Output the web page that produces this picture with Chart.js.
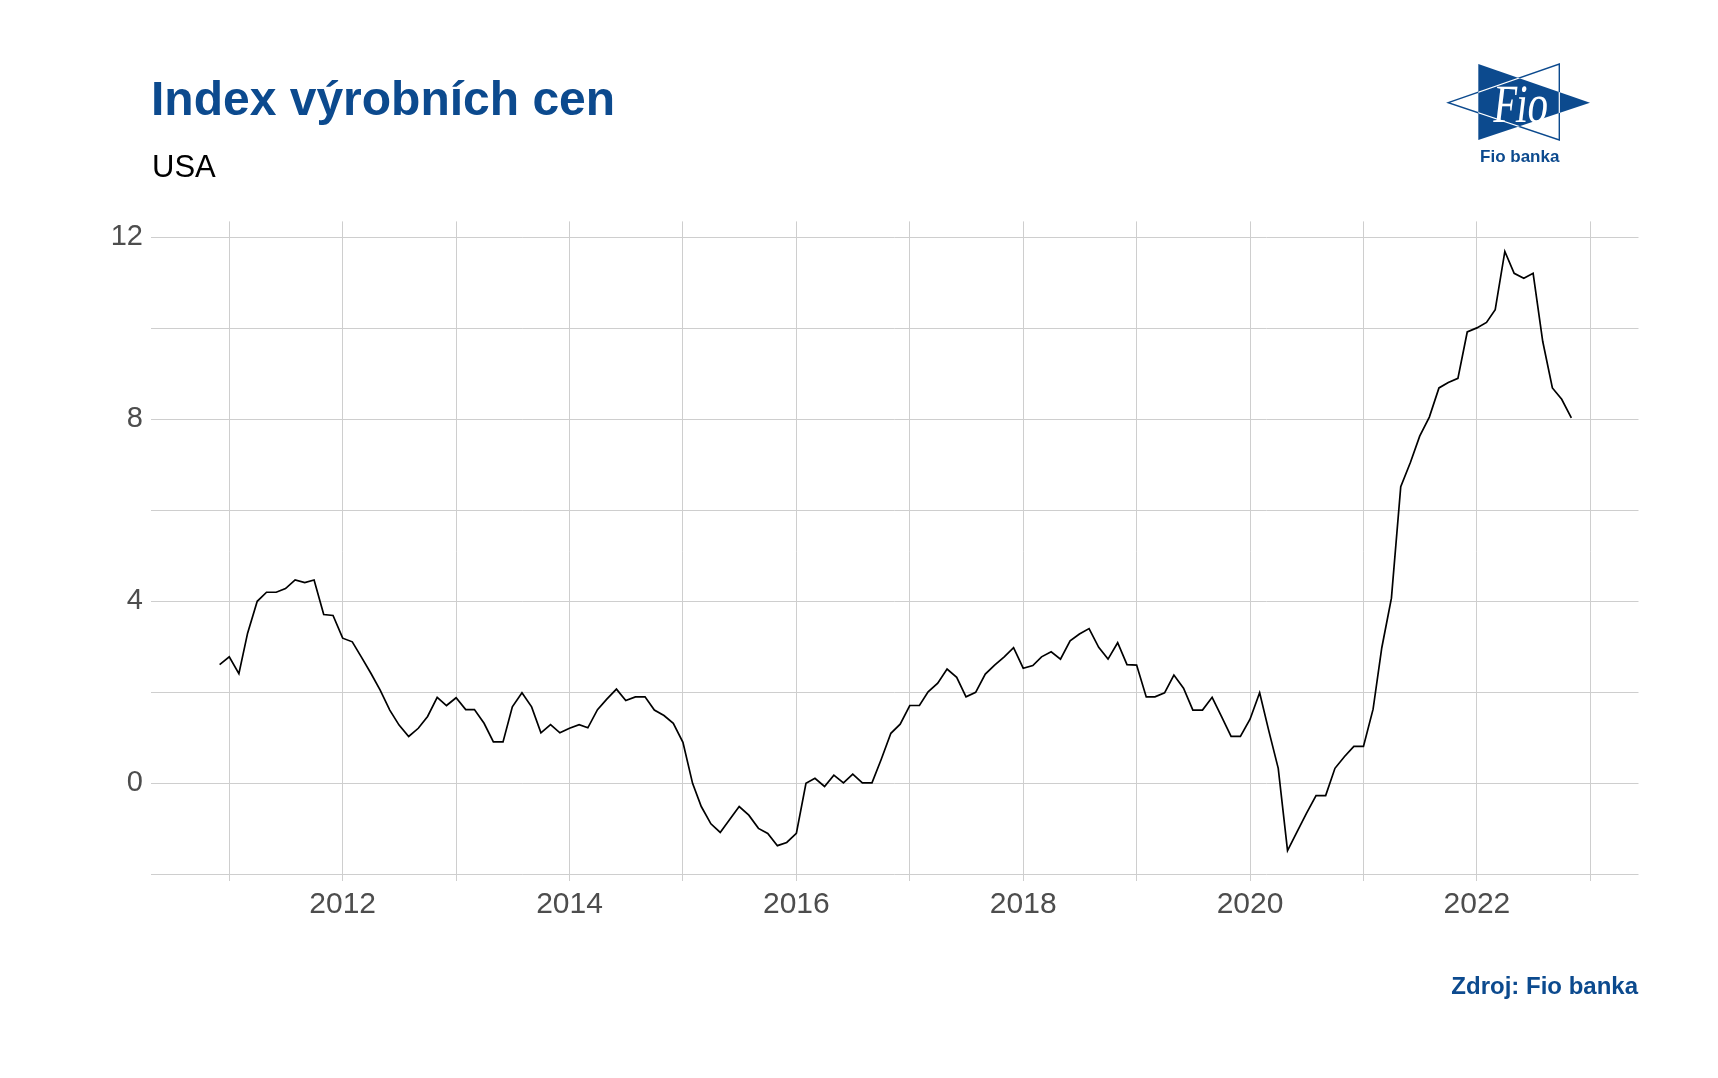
<!DOCTYPE html>
<html>
<head>
<meta charset="utf-8">
<script src="https://cdn.jsdelivr.net/npm/chart.js@4.4.1/dist/chart.umd.min.js"></script>
<style>
html,body{margin:0;padding:0;background:#fff;}
canvas{display:block;}
</style>
</head>
<body>
<canvas id="c" width="1718" height="1078"></canvas>
<script>
// ---- data ----
const titleText = "Index výrobních cen";
const subtitleText = "USA";
const captionText = "Zdroj: Fio banka";
const logoText = "Fio";
const logoSubText = "Fio banka";

const firstMonth = "2010-12";
const lastMonth = "2022-11";
const ppiValues = [
  2.61,
  2.78, 2.41, 3.30, 4.00, 4.20, 4.20, 4.28, 4.47, 4.41, 4.47, 3.71, 3.69,
  3.19, 3.11, 2.78, 2.42, 2.05, 1.61, 1.28, 1.03, 1.21, 1.47, 1.89, 1.71,
  1.88, 1.62, 1.62, 1.32, 0.91, 0.91, 1.68, 1.99, 1.68, 1.11, 1.29, 1.11,
  1.21, 1.29, 1.22, 1.62, 1.85, 2.07, 1.82, 1.90, 1.90, 1.61, 1.49, 1.32,
  0.90, 0.00, -0.51, -0.89, -1.08, -0.79, -0.51, -0.70, -0.99, -1.10, -1.37, -1.30,
  -1.10, 0.00, 0.11, -0.07, 0.18, 0.01, 0.20, 0.01, 0.01, 0.53, 1.10, 1.30,
  1.71, 1.71, 2.01, 2.20, 2.51, 2.33, 1.90, 2.00, 2.40, 2.60, 2.78, 2.98,
  2.53, 2.59, 2.78, 2.89, 2.73, 3.13, 3.28, 3.40, 2.99, 2.73, 3.09, 2.61,
  2.60, 1.90, 1.90, 1.99, 2.38, 2.09, 1.61, 1.61, 1.89, 1.47, 1.03, 1.03,
  1.41, 1.99, 1.17, 0.33, -1.48, -1.06, -0.66, -0.27, -0.27, 0.33, 0.59, 0.81,
  0.81, 1.63, 2.98, 4.07, 6.52, 7.05, 7.63, 8.05, 8.69, 8.81, 8.90, 9.92,
  10.01, 10.13, 10.41, 11.69, 11.21, 11.10, 11.21, 9.71, 8.69, 8.44, 8.03
];
const xGridYears = [2011, 2012, 2013, 2014, 2015, 2016, 2017, 2018, 2019, 2020, 2021, 2022, 2023];
const xLabelYears = [2012, 2014, 2016, 2018, 2020, 2022];
const yGridValues = [-2, 0, 2, 4, 6, 8, 10, 12];
const yLabelValues = [0, 4, 8, 12];

// ---- build month list (dates) ----
function monthList(a, b) {
  let [y, m] = a.split("-").map(Number);
  const [y2, m2] = b.split("-").map(Number);
  const out = [];
  while (y < y2 || (y === y2 && m <= m2)) {
    out.push([y, m]);
    m++; if (m > 12) { m = 1; y++; }
  }
  return out;
}
function decYear(y, m) {
  const t = Date.UTC(y, m - 1, 1), t0 = Date.UTC(y, 0, 1), t1 = Date.UTC(y + 1, 0, 1);
  return y + (t - t0) / (t1 - t0);
}
const months = monthList(firstMonth, lastMonth);
const points = months.map((ym, i) => ({ x: decYear(ym[0], ym[1]), y: ppiValues[i] }));

const BLUE = "#0c4a8e";
const GRID = "#cecece";
const TICK = "#4d4d4d";
const SANS = "'Liberation Sans', Arial, sans-serif";

const decorPlugin = {
  id: "decor",
  afterDraw(chart) {
    const ctx = chart.ctx;
    ctx.save();
    ctx.textBaseline = "alphabetic";
    // title
    ctx.fillStyle = BLUE;
    ctx.font = "bold 48px " + SANS;
    ctx.textAlign = "left";
    ctx.fillText(titleText, 151, 115);
    // subtitle
    ctx.fillStyle = "#000";
    ctx.font = "31px " + SANS;
    ctx.fillText(subtitleText, 152, 177);
    // caption
    ctx.fillStyle = BLUE;
    ctx.font = "bold 24px " + SANS;
    ctx.textAlign = "right";
    ctx.fillText(captionText, 1638, 993.5);

    // logo
    const ox = 1440, oy = 55;
    const wt = [[8.3, 47.7], [119.3, 9], [119.3, 85]];
    const bt = [[38.3, 9], [38.3, 85], [150, 47.7]];
    function path(p) {
      ctx.beginPath();
      ctx.moveTo(ox + p[0][0], oy + p[0][1]);
      ctx.lineTo(ox + p[1][0], oy + p[1][1]);
      ctx.lineTo(ox + p[2][0], oy + p[2][1]);
      ctx.closePath();
    }
    path(wt);
    ctx.fillStyle = "#fff"; ctx.fill();
    ctx.strokeStyle = BLUE; ctx.lineWidth = 1.4; ctx.stroke();
    path(bt);
    ctx.fillStyle = BLUE; ctx.fill();
    ctx.save();
    path(bt); ctx.clip();
    path(wt); ctx.strokeStyle = "#fff"; ctx.lineWidth = 1.2; ctx.stroke();
    ctx.restore();
    // Fio text
    ctx.fillStyle = "#fff";
    ctx.font = "54px 'Liberation Serif', 'DejaVu Serif', serif";
    ctx.textAlign = "left";
    const w = ctx.measureText(logoText).width;
    ctx.save();
    ctx.translate(ox + 51.7, oy + 66.5);
    ctx.transform(1, 0, -0.12, 1, 0, 0);
    ctx.scale(55 / w, 1);
    ctx.fillText(logoText, 0, 0);
    ctx.restore();
    // Fio banka
    ctx.fillStyle = BLUE;
    ctx.font = "bold 17px " + SANS;
    ctx.textAlign = "center";
    ctx.fillText(logoSubText, 1519.7, 161.5);
    ctx.restore();
  }
};

new Chart(document.getElementById("c"), {
  type: "line",
  data: {
    datasets: [{
      data: points,
      borderColor: "#000",
      borderWidth: 1.7,
      pointRadius: 0,
      tension: 0,
      fill: false
    }]
  },
  options: {
    responsive: false,
    animation: false,
    events: [],
    layout: { padding: { top: 221.4, right: 79.5, bottom: 0, left: 0 } },
    plugins: { legend: { display: false }, tooltip: { enabled: false }, title: { display: false } },
    scales: {
      x: {
        type: "linear",
        min: 2010.31,
        max: 2023.425,
        afterBuildTicks(s) { s.ticks = xGridYears.map(v => ({ value: v })); },
        afterFit(s) { s.height = 1078 - 880.7; },
        grid: { color: GRID, lineWidth: 1, drawTicks: false },
        border: { display: false },
        ticks: {
          autoSkip: false, maxRotation: 0, minRotation: 0, padding: 6,
          color: TICK, font: { family: SANS, size: 30 },
          callback: v => (xLabelYears.includes(v) ? String(v) : "")
        }
      },
      y: {
        type: "linear",
        min: -2.14,
        max: 12.35,
        afterBuildTicks(s) { s.ticks = yGridValues.map(v => ({ value: v })); },
        afterFit(s) { s.width = 151; },
        grid: { color: GRID, lineWidth: 1, drawTicks: false },
        border: { display: false },
        ticks: {
          padding: 8,
          color: TICK, font: { family: SANS, size: 29 },
          callback: v => (yLabelValues.includes(v) ? String(v) : "")
        }
      }
    }
  },
  plugins: [decorPlugin]
});
</script>
</body>
</html>
